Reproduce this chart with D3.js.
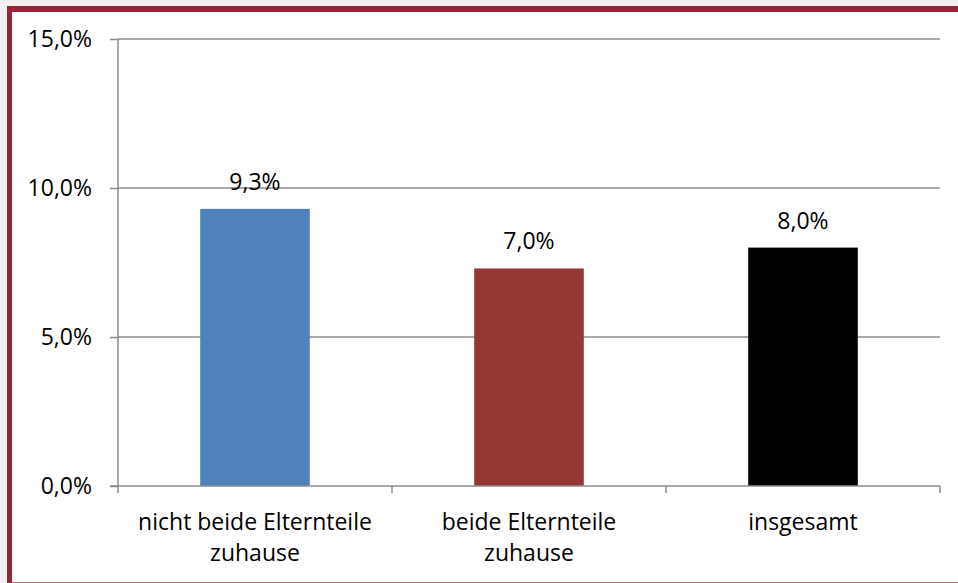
<!DOCTYPE html>
<html>
<head>
<meta charset="utf-8">
<script src="https://cdn.jsdelivr.net/npm/d3@7"></script>
<style>
    html, body { margin: 0; padding: 0; background: #f0f0f0; }
    svg { display: block; }
    text { font-family: "Open Sans", sans-serif; fill: #000; }
</style>
</head>
<body>
<svg width="958" height="583"></svg>
<script>
// chart data
let categories = ["nicht beide Elternteile\nzuhause", "beide Elternteile\nzuhause", "insgesamt"];
let values = [0.093, 0.073, 0.080];
let valueLabels = ["9,3%", "7,0%", "8,0%"];
let barColors = ["#4f81bd", "#953735", "#000000"];
let yTicks = [0, 0.05, 0.10, 0.15];

let svg = d3.select("svg");
let width = +svg.attr("width");
let height = +svg.attr("height");
let fontSize = "23px";

let de = d3.formatLocale({ decimal: ",", thousands: ".", grouping: [3], currency: ["", " €"] });
let pct = de.format(".1%");

// frame
svg.append("rect")
    .attr("x", 7).attr("y", 6)
    .attr("width", width - 7).attr("height", height - 6)
    .attr("fill", "#9b2335");
svg.append("rect")
    .attr("x", 12).attr("y", 12)
    .attr("width", width - 12).attr("height", height - 13)
    .attr("fill", "#fff");
svg.append("line")
    .attr("x1", 12).attr("x2", width)
    .attr("y1", height - 0.5).attr("y2", height - 0.5)
    .attr("stroke", "#c46a7a");

let plot = { left: 118, right: 940, top: 39, bottom: 486 };

let x = d3.scaleBand()
    .domain(categories)
    .range([plot.left, plot.right]);

let y = d3.scaleLinear()
    .domain([0, 0.15])
    .range([plot.bottom, plot.top]);

// gridlines
svg.append("g")
    .selectAll("line")
    .data(yTicks.filter(d => d > 0))
    .enter()
    .append("line")
    .attr("x1", plot.left).attr("x2", plot.right)
    .attr("y1", d => y(d)).attr("y2", d => y(d))
    .attr("stroke", "#8c8c8c")
    .attr("stroke-width", 1.5);

// y axis
let yAxis = svg.append("g")
    .attr("transform", "translate(" + plot.left + ",0)")
    .call(d3.axisLeft(y).tickValues(yTicks).tickFormat(pct).tickSize(8).tickPadding(18));
yAxis.select(".domain").attr("stroke", "#8c8c8c").attr("stroke-width", 1.5)
    .attr("d", "M0," + plot.top + "V" + plot.bottom);
yAxis.selectAll(".tick line").attr("stroke", "#8c8c8c").attr("stroke-width", 1.5);
yAxis.selectAll(".tick text")
    .style("font-size", fontSize)
    .style("font-family", "'Open Sans', sans-serif")
    .attr("fill", "#000");

// bars
let barW = x.bandwidth() * 0.4;
svg.append("g")
    .selectAll("rect")
    .data(categories)
    .enter()
    .append("rect")
    .attr("x", d => x(d) + (x.bandwidth() - barW) / 2)
    .attr("width", barW)
    .attr("y", (d, i) => y(values[i]))
    .attr("height", (d, i) => y(0) - y(values[i]))
    .attr("fill", (d, i) => barColors[i]);

// x axis
svg.append("line")
    .attr("x1", plot.left - 8).attr("x2", plot.right)
    .attr("y1", y(0)).attr("y2", y(0))
    .attr("stroke", "#8c8c8c")
    .attr("stroke-width", 1.5);
let edges = categories.map(d => x(d)).concat([x(categories[categories.length - 1]) + x.bandwidth()]);
svg.append("g")
    .selectAll("line")
    .data(edges)
    .enter()
    .append("line")
    .attr("x1", d => d).attr("x2", d => d)
    .attr("y1", y(0)).attr("y2", y(0) + 7)
    .attr("stroke", "#8c8c8c")
    .attr("stroke-width", 1.5);

// category labels
svg.append("g")
    .selectAll("text")
    .data(categories)
    .enter()
    .append("text")
    .attr("text-anchor", "middle")
    .style("font-size", fontSize)
    .each(function (d) {
        let t = d3.select(this);
        d.split("\n").forEach(function (line, k) {
            t.append("tspan")
                .attr("x", x(d) + x.bandwidth() / 2)
                .attr("y", 530 + k * 31)
                .text(line);
        });
    });

// value labels
svg.append("g")
    .selectAll("text")
    .data(categories)
    .enter()
    .append("text")
    .attr("text-anchor", "middle")
    .style("font-size", fontSize)
    .attr("x", d => x(d) + x.bandwidth() / 2)
    .attr("y", (d, i) => y(values[i]) - 19)
    .text((d, i) => valueLabels[i]);
</script>
</body>
</html>
